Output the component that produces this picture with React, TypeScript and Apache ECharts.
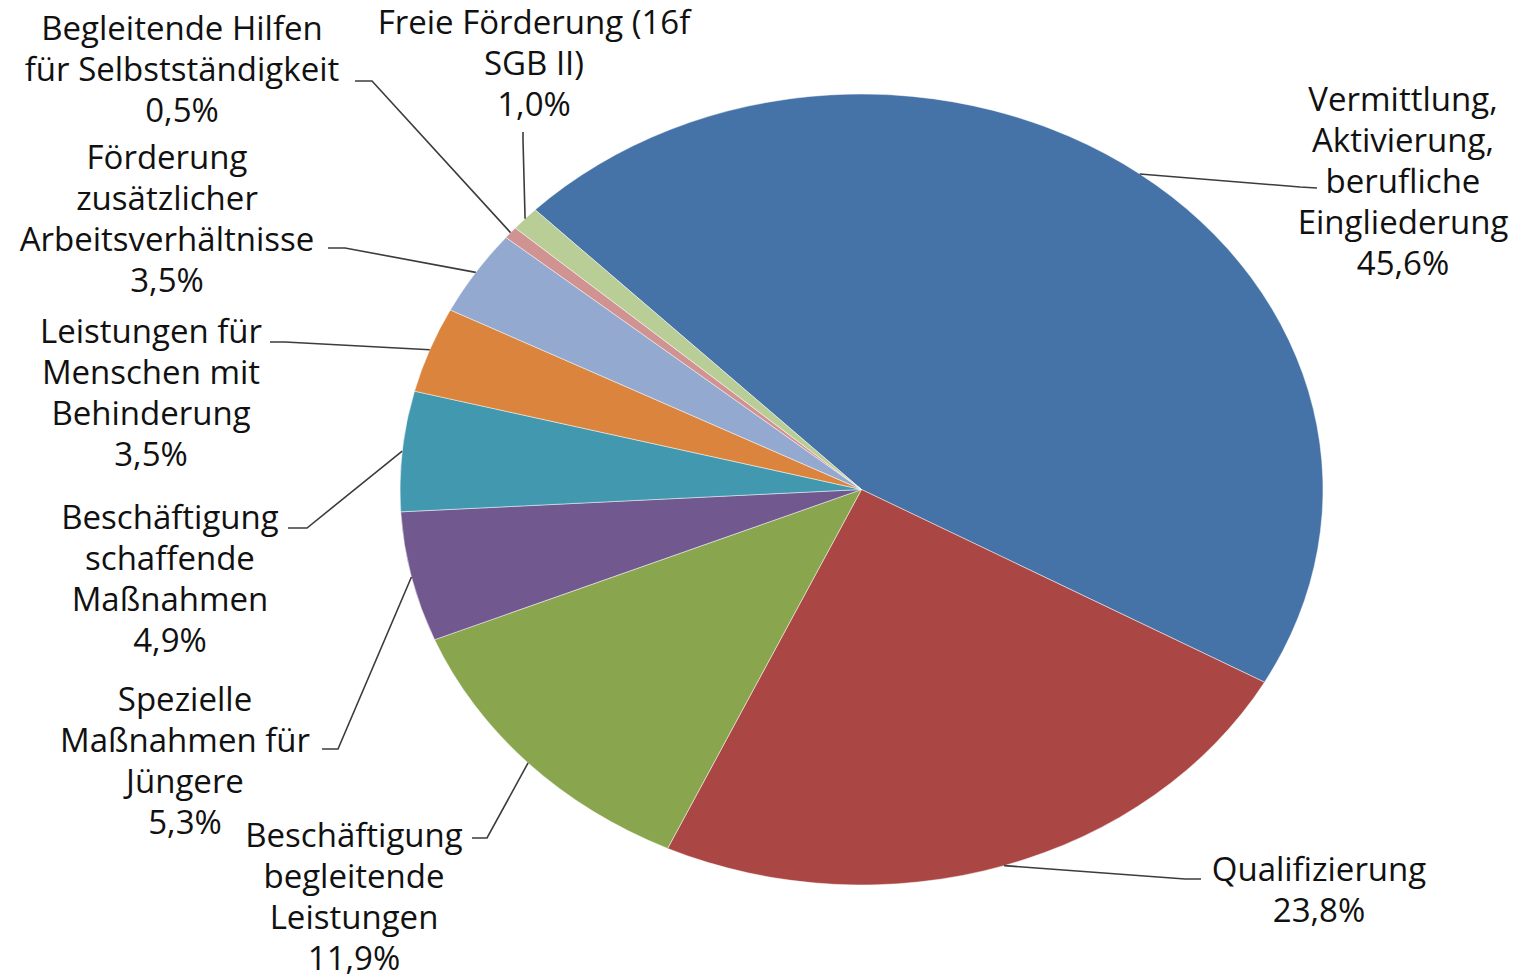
import React, { useEffect, useRef } from "react";
import * as echarts from "echarts";

// ---- data ----
const categories = [
  "Vermittlung,\nAktivierung,\nberufliche\nEingliederung",
  "Qualifizierung",
  "Beschäftigung\nbegleitende\nLeistungen",
  "Spezielle\nMaßnahmen für\nJüngere",
  "Beschäftigung\nschaffende\nMaßnahmen",
  "Leistungen für\nMenschen mit\nBehinderung",
  "Förderung\nzusätzlicher\nArbeitsverhältnisse",
  "Begleitende Hilfen\nfür Selbstständigkeit",
  "Freie Förderung (16f\nSGB II)",
];
const shares = [45.6, 23.8, 11.9, 5.3, 4.9, 3.5, 3.5, 0.5, 1.0];

// ---- styles ----
const colors = [
  "#4572A7",
  "#AA4643",
  "#89A54E",
  "#71588F",
  "#4198AF",
  "#DB843D",
  "#93A9CF",
  "#D19392",
  "#B9CD96",
];

// ---- layout ----
const CX = 861.5;
const CY = 489.5;
const RY = 395.5;
const RX = 461.5;
const K = RX / RY;
const START_ANGLE = 135;

// label block centres
const labelCenters: [number, number][] = [
  [1403, 180],
  [1319, 889],
  [354, 896],
  [185, 760],
  [170, 578],
  [151, 392],
  [167, 218],
  [182, 68],
  [534, 62],
];
// label line bend and end points
const lineBends: [number, number][] = [
  [1300, 187],
  [1185, 879],
  [487, 838],
  [338, 749],
  [307, 528],
  [285, 342],
  [345, 248],
  [372, 81],
  [523, 140],
];
const lineEnds: [number, number][] = [
  [1317, 188],
  [1201, 879],
  [472, 838],
  [322, 749],
  [288, 528],
  [270, 342],
  [328, 248],
  [355, 81],
  [523, 132],
];

const fmt = (v: number) => v.toFixed(1).replace(".", ",") + "%";

function midAngleEdge(i: number): [number, number] {
  const total = shares.reduce((a, b) => a + b, 0);
  let before = 0;
  for (let j = 0; j < i; j++) before += shares[j];
  const mid = START_ANGLE - ((before + shares[i] / 2) / total) * 360;
  const rad = (mid * Math.PI) / 180;
  return [CX + RX * Math.cos(rad), CY - RY * Math.sin(rad)];
}

const pieData = categories.map((name, i) => ({
  name,
  value: shares[i],
  itemStyle: { color: colors[i] },
}));

export default function App() {
  const bottomRef = useRef<HTMLDivElement>(null);
  const topRef = useRef<HTMLDivElement>(null);

  useEffect(() => {
    if (!bottomRef.current || !topRef.current) return;
    const bottom = echarts.init(bottomRef.current, undefined, { renderer: "svg" });
    const top = echarts.init(topRef.current, undefined, { renderer: "svg" });

    bottom.setOption({
      animation: false,
      backgroundColor: "transparent",
      series: [
        {
          type: "pie",
          center: [CX, CY],
          radius: RY,
          startAngle: START_ANGLE,
          clockwise: true,
          avoidLabelOverlap: false,
          data: pieData,
          label: { show: false },
          labelLine: { show: false },
          itemStyle: { borderColor: "rgba(255,255,255,0.55)", borderWidth: 0.8 },
          emphasis: { disabled: true },
          silent: true,
        },
      ],
    });

    top.setOption({
      animation: false,
      backgroundColor: "transparent",
      series: [
        {
          type: "pie",
          center: [CX, CY],
          radius: RY,
          startAngle: START_ANGLE,
          clockwise: true,
          avoidLabelOverlap: false,
          data: pieData.map((d) => ({ ...d, itemStyle: { color: "rgba(0,0,0,0)" } })),
          itemStyle: { borderWidth: 0 },
          emphasis: { disabled: true },
          silent: true,
          label: {
            show: true,
            position: "outside",
            formatter: (p: any) => `${p.name}\n${fmt(p.value)}`,
            fontFamily: "'Open Sans', 'Noto Sans', sans-serif",
            fontSize: 33,
            lineHeight: 41,
            color: "#111111",
            align: "center",
            textAlign: "center",
          },
          labelLine: {
            show: true,
            smooth: false,
            lineStyle: { color: "#3c3c3c", width: 1.6 },
          },
          labelLayout: (params: any) => {
            const i = params.dataIndex;
            let edge: [number, number];
            const p0 = params.labelLinePoints && params.labelLinePoints[0];
            if (p0) {
              edge = [CX + (p0[0] - CX) * K, p0[1]];
            } else {
              edge = midAngleEdge(i);
            }
            return {
              x: labelCenters[i][0],
              y: labelCenters[i][1],
              align: "center",
              verticalAlign: "middle",
              labelLinePoints: [edge, lineBends[i], lineEnds[i]],
            };
          },
        },
      ],
    });

    return () => {
      bottom.dispose();
      top.dispose();
    };
  }, []);

  return (
    <div
      style={{
        position: "absolute",
        left: 0,
        top: 0,
        width: 1519,
        height: 979,
        background: "#ffffff",
        overflow: "hidden",
      }}
    >
      <div
        ref={bottomRef}
        style={{
          position: "absolute",
          left: 0,
          top: 0,
          width: 1519,
          height: 979,
          transform: `scaleX(${K})`,
          transformOrigin: `${CX}px ${CY}px`,
        }}
      />
      <div
        ref={topRef}
        style={{ position: "absolute", left: 0, top: 0, width: 1519, height: 979 }}
      />
    </div>
  );
}
